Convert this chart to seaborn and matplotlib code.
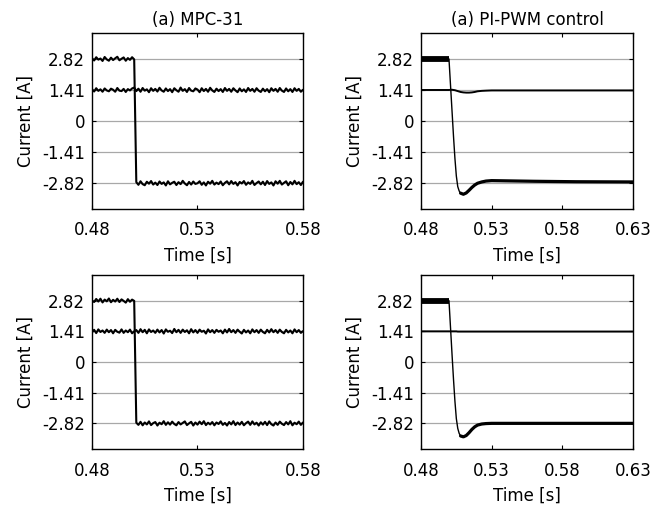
import numpy as np
import pandas as pd
import matplotlib
matplotlib.use("Agg")
import matplotlib.pyplot as plt
import seaborn as sns

# =====================================================
# Data
# =====================================================

titles = ["(a) MPC-31", "(a) PI-PWM control"]
ytick_vals = [-2.82, -1.41, 0, 1.41, 2.82]
ytick_labels = ["-2.82", "-1.41", "0", "1.41", "2.82"]
xticks_mpc = [0.48, 0.53, 0.58]
xticks_pi = [0.48, 0.53, 0.58, 0.63]

# MPC: sampled every 1 ms from 0.480 s to 0.580 s
t_mpc = np.round(np.linspace(0.480, 0.580, 101), 3)

# top-left, phase current (step at 0.500 s)
mpc1_a = [2.86, 2.75, 2.90, 2.79, 2.84, 2.73, 2.91, 2.80, 2.74, 2.88,
          2.77, 2.85, 2.92, 2.76, 2.83, 2.89, 2.74, 2.86, 2.78, 2.90,
          2.80,
          -2.78, -2.90, -2.74, -2.87, -2.92, -2.76, -2.85, -2.73, -2.89, -2.80,
          -2.91, -2.75, -2.86, -2.79, -2.93, -2.74, -2.88, -2.81, -2.76, -2.91,
          -2.78, -2.87, -2.72, -2.84, -2.92, -2.77, -2.89, -2.75, -2.86, -2.83,
          -2.74, -2.90, -2.79, -2.93, -2.76, -2.85, -2.72, -2.89, -2.80, -2.87,
          -2.75, -2.92, -2.81, -2.74, -2.88, -2.73, -2.86, -2.78, -2.93, -2.77,
          -2.84, -2.73, -2.90, -2.79, -2.86, -2.72, -2.91, -2.82, -2.75, -2.88,
          -2.76, -2.91, -2.73, -2.86, -2.79, -2.93, -2.74, -2.85, -2.72, -2.89,
          -2.81, -2.74, -2.92, -2.77, -2.88, -2.72, -2.87, -2.78, -2.91, -2.76]
# top-left, second phase current around 1.41
mpc1_b = [1.45, 1.34, 1.49, 1.37, 1.44, 1.33, 1.48, 1.39, 1.35, 1.47,
          1.42, 1.33, 1.50, 1.38, 1.36, 1.46, 1.32, 1.45, 1.39, 1.48,
          1.52, 1.36, 1.47, 1.33, 1.50, 1.38, 1.44, 1.31, 1.49, 1.37,
          1.46, 1.34, 1.51, 1.39, 1.33, 1.48, 1.36, 1.45, 1.31, 1.49,
          1.40, 1.33, 1.52, 1.37, 1.45, 1.32, 1.50, 1.38, 1.35, 1.48,
          1.43, 1.31, 1.49, 1.36, 1.46, 1.33, 1.51, 1.39, 1.32, 1.47,
          1.36, 1.45, 1.32, 1.50, 1.37, 1.46, 1.33, 1.49, 1.39, 1.31,
          1.48, 1.35, 1.44, 1.32, 1.50, 1.37, 1.46, 1.33, 1.49, 1.38,
          1.32, 1.47, 1.35, 1.45, 1.31, 1.49, 1.37, 1.46, 1.33, 1.50,
          1.38, 1.32, 1.48, 1.35, 1.45, 1.32, 1.49, 1.37, 1.46, 1.33,
          1.42]

# bottom-left
mpc2_a = [2.83, 2.76, 2.90, 2.78, 2.91, 2.74, 2.87, 2.79, 2.92, 2.75,
          2.86, 2.78, 2.91, 2.76, 2.88, 2.81, 2.73, 2.89, 2.77, 2.87,
          2.81,
          -2.79, -2.89, -2.75, -2.91, -2.78, -2.87, -2.73, -2.90, -2.81, -2.76,
          -2.92, -2.79, -2.86, -2.72, -2.89, -2.77, -2.88, -2.74, -2.85, -2.91,
          -2.76, -2.87, -2.80, -2.73, -2.90, -2.82, -2.75, -2.92, -2.78, -2.88,
          -2.74, -2.86, -2.72, -2.90, -2.79, -2.87, -2.76, -2.91, -2.78, -2.85,
          -2.73, -2.89, -2.80, -2.92, -2.76, -2.87, -2.72, -2.90, -2.78, -2.88,
          -2.75, -2.91, -2.81, -2.74, -2.89, -2.73, -2.87, -2.79, -2.92, -2.77,
          -2.88, -2.75, -2.90, -2.73, -2.86, -2.92, -2.78, -2.89, -2.74, -2.84,
          -2.90, -2.76, -2.87, -2.72, -2.91, -2.79, -2.86, -2.74, -2.89, -2.78]
mpc2_b = [1.36, 1.48, 1.33, 1.50, 1.38, 1.45, 1.34, 1.49, 1.37, 1.47,
          1.32, 1.48, 1.39, 1.35, 1.50, 1.34, 1.45, 1.37, 1.49, 1.32,
          1.41, 1.47, 1.34, 1.51, 1.37, 1.48, 1.32, 1.50, 1.38, 1.45,
          1.34, 1.49, 1.36, 1.47, 1.31, 1.50, 1.39, 1.44, 1.33, 1.52,
          1.37, 1.48, 1.34, 1.49, 1.38, 1.46, 1.32, 1.51, 1.36, 1.47,
          1.34, 1.49, 1.39, 1.44, 1.31, 1.50, 1.37, 1.47, 1.34, 1.48,
          1.39, 1.45, 1.32, 1.49, 1.36, 1.52, 1.37, 1.47, 1.34, 1.49,
          1.39, 1.31, 1.48, 1.36, 1.45, 1.32, 1.50, 1.37, 1.47, 1.34,
          1.49, 1.38, 1.32, 1.48, 1.36, 1.51, 1.37, 1.47, 1.34, 1.49,
          1.38, 1.32, 1.48, 1.36, 1.45, 1.32, 1.50, 1.37, 1.47, 1.34,
          1.42]

# PI-PWM: non-uniform samples
t_pi = [0.480, 0.490, 0.4998, 0.501, 0.502, 0.503, 0.504, 0.505, 0.506,
        0.507, 0.508, 0.510, 0.512, 0.514, 0.516, 0.518, 0.520, 0.523,
        0.526, 0.530, 0.540, 0.560, 0.590, 0.630]
pi1_a = [2.82, 2.82, 2.82, 1.50, 0.40, -0.70, -1.70, -2.50, -2.98,
         -3.18, -3.28, -3.33, -3.27, -3.15, -3.02, -2.91, -2.83, -2.77,
         -2.73, -2.71, -2.72, -2.74, -2.76, -2.77]
pi1_b = [1.41, 1.41, 1.41, 1.42, 1.42, 1.41, 1.40, 1.38, 1.36,
         1.34, 1.32, 1.30, 1.29, 1.29, 1.30, 1.32, 1.35, 1.37,
         1.38, 1.39, 1.39, 1.39, 1.39, 1.39]
pi2_a = [2.82, 2.82, 2.82, 1.45, 0.30, -0.80, -1.80, -2.60, -3.05,
         -3.28, -3.40, -3.44, -3.38, -3.25, -3.10, -2.98, -2.90, -2.85,
         -2.83, -2.82, -2.82, -2.82, -2.82, -2.82]
pi2_b = [1.41, 1.41, 1.41, 1.41, 1.41, 1.41, 1.41, 1.41, 1.40,
         1.40, 1.40, 1.40, 1.40, 1.40, 1.40, 1.40, 1.40, 1.40,
         1.40, 1.40, 1.40, 1.40, 1.40, 1.40]

# =====================================================
# Style
# =====================================================

sns.set_theme(style="white")
plt.rcParams["font.family"] = ["DejaVu Sans"]
plt.rcParams["font.size"] = 12
plt.rcParams["text.color"] = "black"
plt.rcParams["axes.labelcolor"] = "black"
plt.rcParams["axes.titlecolor"] = "black"

fig = plt.figure(figsize=(6.52, 5.11), dpi=100)

boxes = {
    (0, 0): [0.1411, 0.591, 0.3236, 0.3444],
    (0, 1): [0.6457, 0.591, 0.3252, 0.3444],
    (1, 0): [0.1411, 0.1213, 0.3236, 0.3405],
    (1, 1): [0.6457, 0.1213, 0.3252, 0.3405],
}


def style_axes(ax, xticks, xlim):
    ax.set_xlim(*xlim)
    ax.set_ylim(-4, 4)
    ax.set_yticks(ytick_vals)
    ax.set_yticklabels(ytick_labels)
    ax.set_xticks(xticks)
    ax.set_xticklabels([f"{v:.2f}" for v in xticks])
    ax.yaxis.grid(True, color="#a8a8a8", linewidth=0.9)
    ax.xaxis.grid(False)
    ax.tick_params(direction="in", length=3, width=0.8, colors="black",
                   labelsize=12, top=True, right=True, bottom=True, left=True)
    ax.tick_params(axis="x", pad=9)
    ax.tick_params(axis="y", pad=5)
    for s in ax.spines.values():
        s.set_color("black")
        s.set_linewidth(1.0)
    ax.set_xlabel("Time [s]", fontsize=12, labelpad=5, color="black")
    ax.set_ylabel("Current [A]", fontsize=12, labelpad=5, color="black")


# =====================================================
# MPC panels
# =====================================================

for row, (ya, yb) in enumerate([(mpc1_a, mpc1_b), (mpc2_a, mpc2_b)]):
    ax = fig.add_axes(boxes[(row, 0)])
    df = pd.DataFrame({"t": t_mpc, "a": ya, "b": yb})
    sns.lineplot(data=df, x="t", y="b", ax=ax, color="black", linewidth=1.5,
                 estimator=None, sort=False)
    sns.lineplot(data=df, x="t", y="a", ax=ax, color="black", linewidth=1.5,
                 estimator=None, sort=False)
    style_axes(ax, xticks_mpc, (0.48, 0.58))
    if row == 0:
        ax.set_title(titles[0], fontsize=12, pad=6, color="black")

# =====================================================
# PI-PWM panels
# =====================================================

for row, (ya, yb) in enumerate([(pi1_a, pi1_b), (pi2_a, pi2_b)]):
    ax = fig.add_axes(boxes[(row, 1)])
    df = pd.DataFrame({"t": t_pi, "a": ya, "b": yb})
    sns.lineplot(data=df, x="t", y="b", ax=ax, color="black", linewidth=1.4,
                 estimator=None, sort=False)
    sns.lineplot(data=df, x="t", y="a", ax=ax, color="black", linewidth=1.0,
                 estimator=None, sort=False)
    # PWM ripple band before the step and during settling
    pre = df[df["t"] <= 0.4998]
    ax.plot(pre["t"], pre["a"], color="black", linewidth=4.2,
            solid_capstyle="butt")
    post = df[df["t"] >= 0.508]
    ax.plot(post["t"], post["a"], color="black", linewidth=2.3,
            solid_capstyle="round", solid_joinstyle="round")
    style_axes(ax, xticks_pi, (0.48, 0.63))
    if row == 0:
        ax.set_title(titles[1], fontsize=12, pad=6, color="black")

fig.savefig("out.png", dpi=100)
